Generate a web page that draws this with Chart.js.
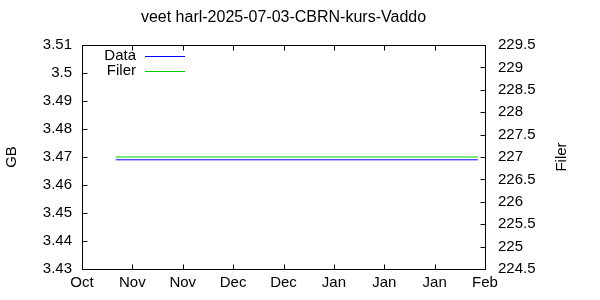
<!DOCTYPE html>
<html>
<head>
<meta charset="utf-8">
<script src="https://cdn.jsdelivr.net/npm/chart.js@4"></script>
<style>
  html, body { margin: 0; padding: 0; background: #fff; }
  #wrap { width: 600px; height: 300px; }
</style>
</head>
<body>
<div id="wrap"><canvas id="gbChart"></canvas></div>
<script>
// values
const tickLabels = ['Oct', 'Nov', 'Nov', 'Dec', 'Dec', 'Jan', 'Jan', 'Jan', 'Feb'];
const sampleX = [0.67, 7.86];
const gbValues = [3.469, 3.469];
const filerValues = [227, 227];

const FONT = 'Liberation Sans, Arial, sans-serif';
Chart.defaults.font.family = FONT;
Chart.defaults.font.size = 15;
Chart.defaults.color = '#000';

// gnuplot look: closed frame, inward ticks, key inside top-left, right title bottom-up
const gnuplotFrame = {
  id: 'gnuplotFrame',
  afterDraw(chart) {
    const { ctx, chartArea: a, scales } = chart;
    const snap = v => Math.round(v) + 0.5;
    ctx.save();
    ctx.strokeStyle = '#000';
    ctx.lineWidth = 1;
    ctx.strokeRect(snap(a.left), snap(a.top), Math.round(a.right - a.left), Math.round(a.bottom - a.top));

    ctx.beginPath();
    scales.x.ticks.forEach(t => {
      const px = snap(scales.x.getPixelForValue(t.value));
      ctx.moveTo(px, snap(a.bottom)); ctx.lineTo(px, snap(a.bottom) - 5);
      ctx.moveTo(px, snap(a.top)); ctx.lineTo(px, snap(a.top) + 5);
    });
    scales.y.ticks.forEach(t => {
      const py = snap(scales.y.getPixelForValue(t.value));
      ctx.moveTo(snap(a.left), py); ctx.lineTo(snap(a.left) + 5, py);
    });
    scales.y2.ticks.forEach(t => {
      const py = snap(scales.y2.getPixelForValue(t.value));
      ctx.moveTo(snap(a.right), py); ctx.lineTo(snap(a.right) - 5, py);
    });
    ctx.stroke();

    // key
    ctx.font = '15px ' + FONT;
    ctx.fillStyle = '#000';
    ctx.textAlign = 'right';
    ctx.textBaseline = 'middle';
    chart.data.datasets.forEach((ds, i) => {
      const y = 56 + i * 15;
      ctx.fillText(ds.label, 136, y);
      ctx.strokeStyle = ds.borderColor;
      ctx.beginPath();
      ctx.moveTo(145, y + 0.5);
      ctx.lineTo(185, y + 0.5);
      ctx.stroke();
    });

    // right axis title, reading bottom to top
    ctx.translate(562, (a.top + a.bottom) / 2);
    ctx.rotate(-Math.PI / 2);
    ctx.textAlign = 'center';
    ctx.fillText(scales.y2.options.title.text, 0, 0);
    ctx.restore();
  }
};

new Chart(document.getElementById('gbChart'), {
  type: 'line',
  data: {
    datasets: [
      {
        label: 'Data',
        data: sampleX.map((x, i) => ({ x: x, y: gbValues[i] })),
        borderColor: '#0000ff',
        borderWidth: 1,
        pointRadius: 0,
        yAxisID: 'y'
      },
      {
        label: 'Filer',
        data: sampleX.map((x, i) => ({ x: x, y: filerValues[i] })),
        borderColor: '#00cc00',
        borderWidth: 1,
        pointRadius: 0,
        yAxisID: 'y2'
      }
    ]
  },
  options: {
    responsive: true,
    maintainAspectRatio: false,
    animation: false,
    layout: { padding: 0 },
    plugins: {
      legend: { display: false },
      tooltip: { enabled: false },
      title: {
        display: true,
        text: 'veet harl-2025-07-03-CBRN-kurs-Vaddo',
        fullSize: false,
        font: { size: 16, weight: 'normal', lineHeight: 1.2 },
        color: '#000',
        padding: { top: 8, bottom: 17.8 }
      }
    },
    scales: {
      x: {
        type: 'linear',
        min: 0,
        max: tickLabels.length - 1,
        grid: { display: false, drawTicks: false },
        border: { display: false },
        ticks: {
          stepSize: 1,
          padding: 5,
          maxRotation: 0,
          autoSkip: false,
          callback: v => tickLabels[v]
        },
        afterFit: s => { s.height = 31; }
      },
      y: {
        position: 'left',
        min: 3.43,
        max: 3.51,
        grid: { display: false, drawTicks: false },
        border: { display: false },
        ticks: {
          stepSize: 0.01,
          padding: 10,
          callback: v => String(Number(v.toFixed(2)))
        },
        title: { display: true, text: 'GB', padding: { top: 3, bottom: 0 } },
        afterFit: s => { s.width = 82; }
      },
      y2: {
        position: 'right',
        min: 224.5,
        max: 229.5,
        grid: { display: false, drawTicks: false },
        border: { display: false },
        ticks: {
          stepSize: 0.5,
          padding: 13,
          callback: v => String(Number(v.toFixed(1)))
        },
        title: { display: false, text: 'Filer' },
        afterFit: s => { s.width = 115; }
      }
    }
  },
  plugins: [gnuplotFrame]
});
</script>
</body>
</html>
